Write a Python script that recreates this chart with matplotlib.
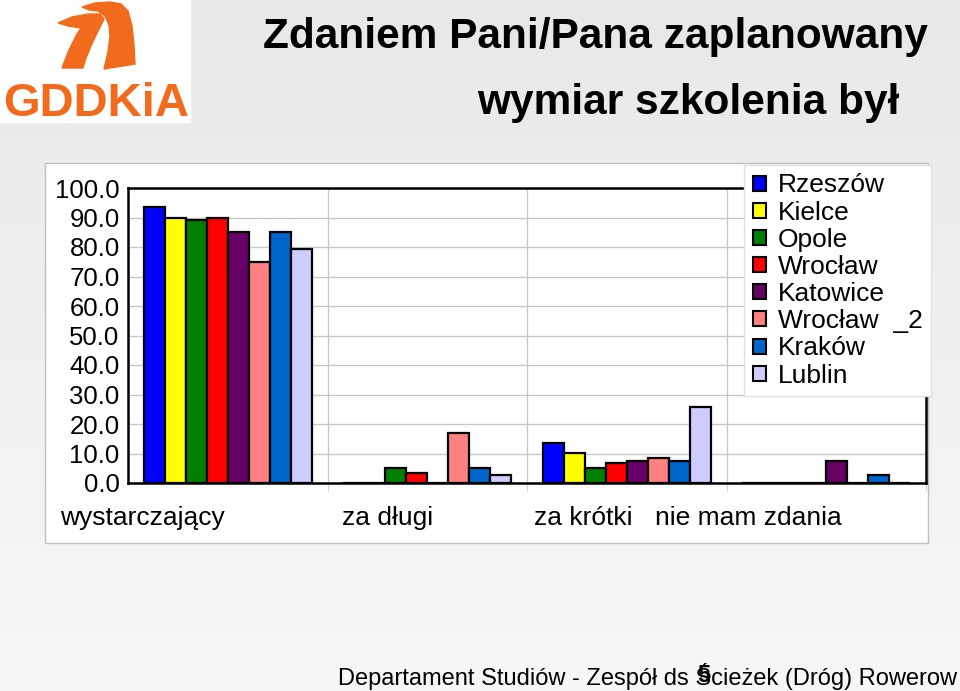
import numpy as np
import matplotlib
matplotlib.use("Agg")
import matplotlib.pyplot as plt
from matplotlib.patches import Patch, Rectangle, Polygon

# data
categories = ["wystarczający", "za długi", "za krótki", "nie mam zdania"]
series = ["Rzeszów", "Kielce", "Opole", "Wrocław", "Katowice", "Wrocław  _2", "Kraków", "Lublin"]
colors = ["#0000ff", "#ffff00", "#008000", "#ff0000", "#660066", "#ff8080", "#0066cc", "#ccccff"]

rzeszow = [93.4, 0.0, 13.5, 0.0]
kielce = [89.8, 0.0, 10.1, 0.0]
opole = [89.2, 5.2, 5.1, 0.0]
wroclaw = [90.0, 3.4, 6.8, 0.0]
katowice = [85.2, 0.0, 7.6, 7.6]
wroclaw_2 = [75.0, 16.8, 8.5, 0.0]
krakow = [85.2, 5.2, 7.5, 2.7]
lublin = [79.3, 2.7, 25.9, 0.0]
values = [rzeszow, kielce, opole, wroclaw, katowice, wroclaw_2, krakow, lublin]

yticks = np.arange(0, 101, 10)

W, H = 960, 691
fig = plt.figure(figsize=(W / 100, H / 100), dpi=100)
SANS = ["Liberation Sans", "DejaVu Sans"]


def fx(px):
    return px / W


def fy(py):
    return 1 - py / H


# background gradient
bg = fig.add_axes([0, 0, 1, 1], zorder=-10)
grad = np.linspace(0.91, 0.97, 256).reshape(-1, 1)
bg.imshow(np.dstack([grad] * 3), aspect="auto", extent=[0, 1, 0, 1], origin="upper")
bg.set_xlim(0, 1)
bg.set_ylim(0, 1)
bg.axis("off")

# logo
bg.add_patch(Rectangle((0, fy(122)), fx(190), 122 / H, color="white", zorder=1))
orange = "#f26a1b"
left_piece = [(58, 23), (72, 17), (88, 14), (100, 14), (104, 19), (98, 31), (91, 46),
              (86, 58), (83, 68), (62, 68), (69, 50), (77, 34), (81, 28), (68, 26)]
right_piece = [(82, 7), (95, 3), (110, 2), (121, 4), (128, 11), (132, 26), (134, 45),
               (135, 64), (104, 69), (108, 52), (110, 36), (109, 25), (105, 16), (98, 11), (89, 10)]
for pts in (left_piece, right_piece):
    bg.add_patch(Polygon([(fx(a), fy(b)) for a, b in pts], closed=True, color=orange, zorder=2))
fig.text(fx(96), fy(104), "GDDKiA", color=orange, fontsize=34, fontweight="bold",
         family=SANS, ha="center", va="center")

# title
fig.text(fx(595), fy(37), "Zdaniem Pani/Pana zaplanowany", fontsize=30.5, fontweight="bold",
         family=SANS, ha="center", va="center")
fig.text(fx(688), fy(103), "wymiar szkolenia był", fontsize=30.5, fontweight="bold",
         family=SANS, ha="center", va="center")

# chart box
bg.add_patch(Rectangle((fx(45), fy(543)), fx(928) - fx(45), (543 - 163) / H,
                       facecolor="white", edgecolor="#c0c0c0", lw=1, zorder=1))

# footer
fig.text(fx(338), fy(676), "Departament Studiów - Zespół ds Ścieżek (Dróg) Rowerow", fontsize=17,
         family=SANS, ha="left", va="center")
fig.text(fx(704), fy(676), "5", fontsize=17, fontweight="bold",
         family=SANS, ha="center", va="center")

ax = fig.add_axes([fx(128), fy(483), fx(926) - fx(128), (483 - 188) / H])
x = np.arange(len(categories))
bw = 0.105
for j, (name, vals, c) in enumerate(zip(series, values, colors)):
    ax.bar(x + (j - 3.5) * bw, vals, bw, color=c, edgecolor="black", lw=1.6, label=name, zorder=3)

ax.set_xlim(-0.5, 3.5)
ax.set_ylim(0, 100)
ax.set_yticks(yticks)
ax.set_yticklabels([f"{v:.1f}" for v in yticks], family=SANS, fontsize=18.5)
ax.tick_params(axis="y", length=0, pad=6)
ax.grid(axis="y", color="#c8c8c8", lw=1, zorder=0)
ax.set_xticks([])
ax.set_xticks([0.5, 1.5, 2.5, 3.5], minor=True)
ax.tick_params(axis="x", which="minor", length=6, color="#c8c8c8", labelbottom=False)
for b in [0.5, 1.5, 2.5]:
    ax.axvline(b, color="#c8c8c8", lw=1, zorder=0)
for s in ax.spines.values():
    s.set_color("black")
    s.set_linewidth(1.8)

label_shift = [-0.427, -0.197, -0.219, -0.392]
for i, (cat, sh) in enumerate(zip(categories, label_shift)):
    ax.text(i + sh, -12, cat, fontsize=19, family=SANS,
            ha="center", va="center", clip_on=False)

handles = [Patch(facecolor=c, edgecolor="black", lw=1.5) for c in colors]
leg = fig.legend(handles, series, loc="upper right", bbox_to_anchor=(fx(931), fy(165)),
                 prop={"family": SANS, "size": 19},
                 frameon=True, fancybox=False, edgecolor="#e0e0e0", framealpha=1,
                 handlelength=0.5, handleheight=0.5, handletextpad=0.45, labelspacing=0.12,
                 borderpad=0.32, borderaxespad=0)
leg.get_frame().set_linewidth(1)

fig.savefig("out.png", dpi=100)
